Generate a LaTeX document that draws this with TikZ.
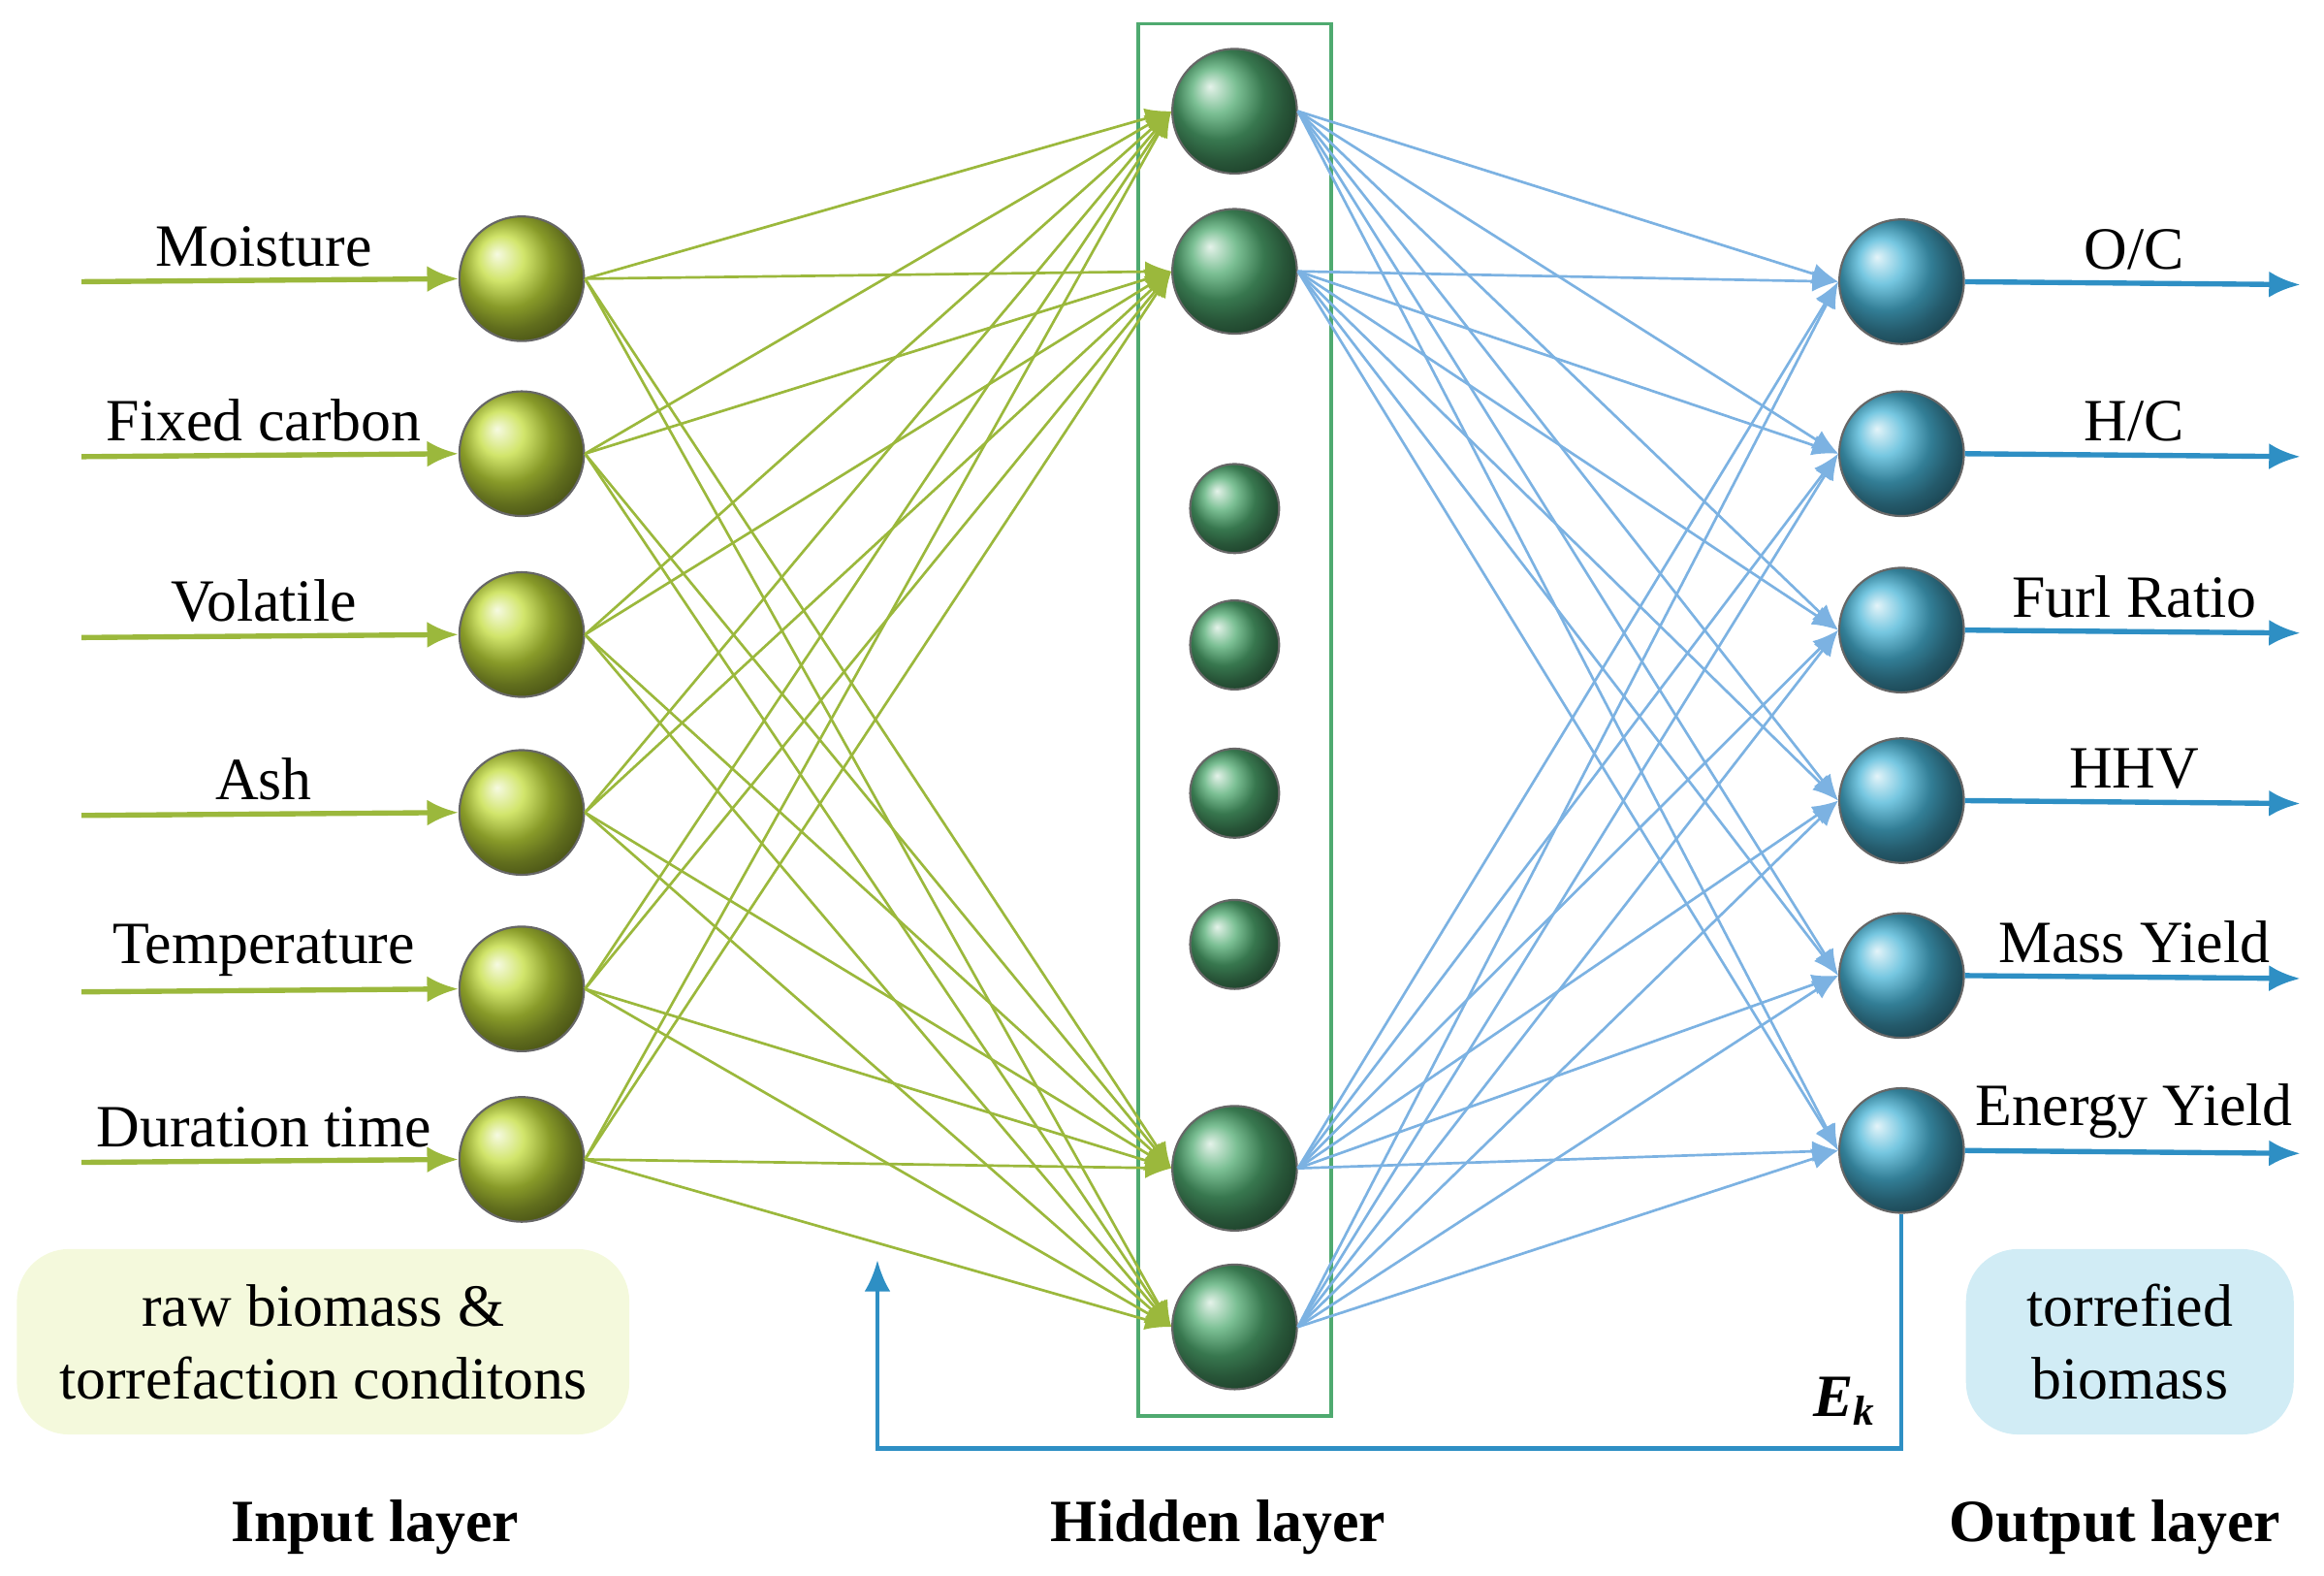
\documentclass[tikz,border=0pt]{standalone}
\usepackage{fontspec}
\setmainfont{Liberation Serif}
\usetikzlibrary{arrows.meta}
\definecolor{ib}{HTML}{C2DC3A}
\definecolor{hb}{HTML}{4FAA70}
\definecolor{ob}{HTML}{48B4D6}
\definecolor{gln}{HTML}{9BB83C}
\definecolor{bln}{HTML}{7CB2E2}
\definecolor{ban}{HTML}{2E8FC4}
\begin{document}
\begin{tikzpicture}[x=0.01cm,y=-0.01cm,
  inn/.style={circle,minimum size=0.84cm,inner sep=0pt,ball color=ib,draw=black!60},
  hid/.style={circle,inner sep=0pt,ball color=hb,draw=black!60},
  onode/.style={circle,minimum size=0.84cm,inner sep=0pt,ball color=ob,draw=black!60},
  gl/.style={draw=gln,line width=0.5pt,-{Latex[length=5pt,width=4pt]}},
  bl/.style={draw=bln,line width=0.5pt,-{Latex[length=5pt,width=4pt]}},
  ga/.style={draw=gln,line width=1pt,-{Latex[length=6pt,width=5pt]}},
  ba/.style={draw=ban,line width=1pt,-{Latex[length=6pt,width=5pt]}},
  lab/.style={font=\fontsize{11.5}{13}\selectfont,inner sep=1pt},
  tl/.style={font=\fontsize{11.5}{13}\selectfont\bfseries}]
\useasboundingbox (0,0) rectangle (1568,1063);
% hidden box
\draw[hb,line width=0.7pt] (768,16) rectangle (898,955);
% inputs
\foreach \i/\y/\t in {1/188/{Moisture},2/306/{Fixed carbon},3/428/{Volatile},4/548/{Ash},5/667/{Temperature},6/782/{Duration time}}{
  \node[inn] (i\i) at (352,\y) {};
  \coordinate (s\i) at (55,\y+2);
  \draw[ga] (s\i) -- (i\i.west);
  \node[lab,anchor=south] (li\i) at (178,\y-4) {\t};
}
% outputs
\foreach \i/\y/\t in {1/190/{O/C},2/306/{H/C},3/425/{Furl Ratio},4/540/{HHV},5/658/{Mass Yield},6/776/{Energy Yield}}{
  \node[onode] (o\i) at (1283,\y) {};
  \coordinate (e\i) at (1552,\y+2);
  \draw[ba] (o\i.east) -- (e\i);
  \node[lab,anchor=south] (lo\i) at (1440,\y-4) {\t};
}
% hidden
\node[hid,minimum size=0.84cm] (h1) at (833,75) {};
\node[hid,minimum size=0.84cm] (h2) at (833,183) {};
\node[hid,minimum size=0.6cm] (h3) at (833,343) {};
\node[hid,minimum size=0.6cm] (h4) at (833,435) {};
\node[hid,minimum size=0.6cm] (h5) at (833,535) {};
\node[hid,minimum size=0.6cm] (h6) at (833,637) {};
\node[hid,minimum size=0.84cm] (h7) at (833,788) {};
\node[hid,minimum size=0.84cm] (h8) at (833,895) {};
% connections
\foreach \i in {1,...,6}{
  \foreach \h in {1,2,7,8}{
    \draw[gl] (i\i.east) -- (h\h.west);
  }
}
\foreach \h in {1,2,7,8}{
  \foreach \o in {1,...,6}{
    \draw[bl] (h\h.east) -- (o\o.west);
  }
}
% feedback
\coordinate (fb) at (592,850);
\coordinate (fc) at (592,977);
\draw[draw=ban,line width=0.8pt,-{Latex[length=6pt,width=5pt]}] (o6.south) |- (fc) -- (fb);
\node[font=\fontsize{11.5}{13}\selectfont\bfseries\itshape] (ek) at (1245,945) {E\textsubscript{\itshape k}};
% boxes
\node[rounded corners=10pt,fill=ib!18,minimum width=4.13cm,minimum height=1.25cm,align=center,font=\fontsize{11.5}{14}\selectfont] (bx1) at (218,905) {raw biomass \&\\torrefaction conditons};
\node[rounded corners=10pt,fill=ob!25,minimum width=2.21cm,minimum height=1.25cm,align=center,font=\fontsize{11.5}{14}\selectfont] (bx2) at (1437,905) {torrefied\\biomass};
\node[tl] (t1) at (253,1030) {Input layer};
\node[tl] (t2) at (822,1030) {Hidden layer};
\node[tl] (t3) at (1427,1030) {Output layer};
\end{tikzpicture}
\end{document}
